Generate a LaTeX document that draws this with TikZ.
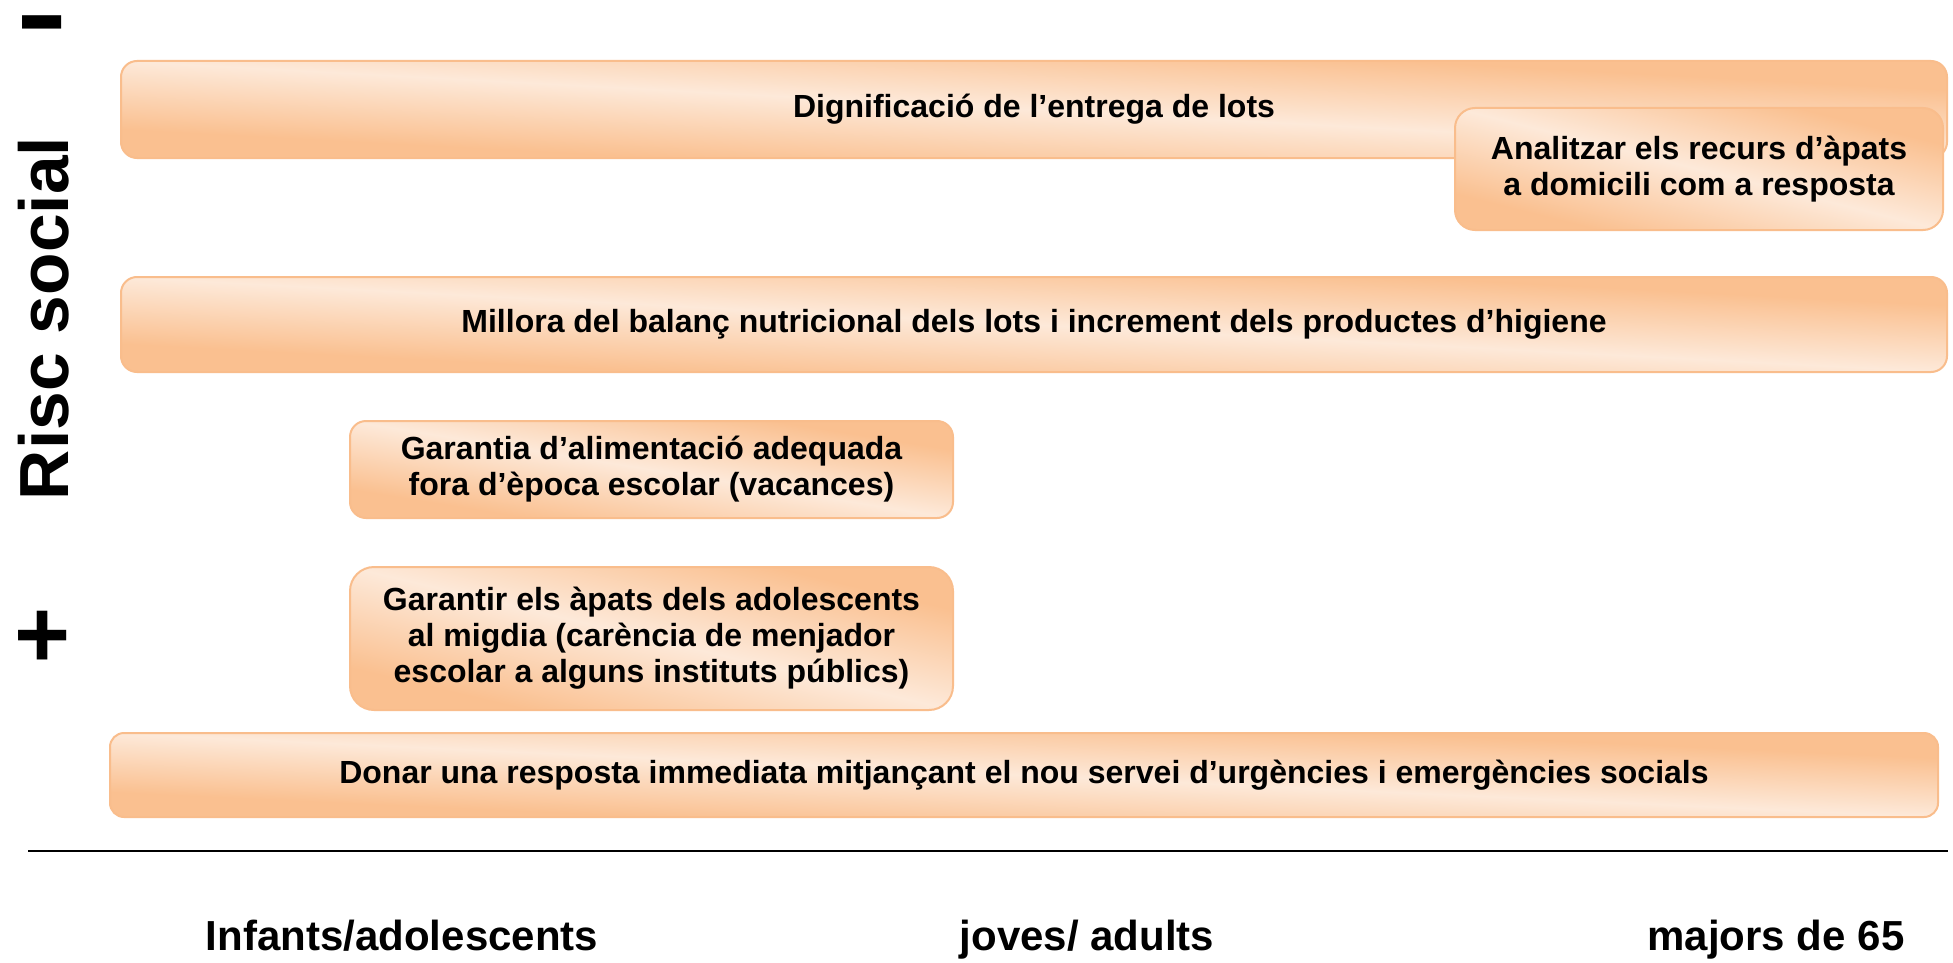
\documentclass[tikz,border=0pt]{standalone}
\usepackage{fontspec}
\setmainfont{Liberation Sans}
\definecolor{lt}{HTML}{FDE9D9}
\definecolor{dk}{HTML}{FAC090}
\definecolor{bord}{HTML}{F9BD8C}
\pgfdeclareverticalshading{orangediag}{100bp}{color(0bp)=(dk); color(25bp)=(dk); color(50bp)=(lt); color(75bp)=(dk); color(100bp)=(dk)}
% #1 name, #2 cx, #3 cy, #4 width, #5 height, #6 corner radius, #7 text
\newcommand\orangecard[7]{%
  \begin{scope}
    \clip[rounded corners=#6pt] ({#2-#4/2},{#3-#5/2}) rectangle ({#2+#4/2},{#3+#5/2});
    \begin{scope}[transform canvas={shift={(#2,#3)}, xscale=#4/#5}]
      \shade[shading=orangediag, shading angle=-45] ({-#5/2},{-#5/2}) rectangle ({#5/2},{#5/2});
    \end{scope}
  \end{scope}
  \node[cardframe, rounded corners=#6pt, minimum width=#4pt, minimum height=#5pt] (#1) at (#2,#3) {#7};
}
\begin{document}
\begin{tikzpicture}[x=1pt,y=-1pt,
  cardframe/.style={draw=bord, line width=2pt, align=center, inner sep=0pt, text=black,
    font=\fontsize{32}{36}\selectfont\bfseries},
  axislabel/.style={font=\fontsize{42}{48}\selectfont\bfseries, anchor=base, inner sep=0pt}]
\useasboundingbox[fill=white] (0,0) rectangle (1953,963);

\orangecard{dig}{1034}{109.5}{1826}{97}{16}{Dignificació de l’entrega de lots}
\orangecard{ana}{1699}{169}{488}{122}{20}{Analitzar els recurs d’àpats\\a domicili com a resposta}
\orangecard{mil}{1034}{324.5}{1826}{95}{16}{Millora del balanç nutricional dels lots i increment dels productes d’higiene}
\orangecard{gar}{651.5}{469.5}{603}{97}{16}{Garantia d’alimentació adequada\\fora d’època escolar (vacances)}
\orangecard{gtr}{651.5}{638.5}{603}{143}{24}{Garantir els àpats dels adolescents\\al migdia (carència de menjador\\escolar a alguns instituts públics)}
\orangecard{don}{1024}{775}{1828}{84}{14}{Donar una resposta immediata mitjançant el nou servei d’urgències i emergències socials}

\coordinate (lineL) at (28,851);
\coordinate (lineR) at (1948,851);
\draw[line width=2.5pt, black] (lineL) -- (lineR);

\node[axislabel] (infants) at (402,950) {Infants/adolescents};
\node[axislabel] (joves) at (1087,950) {joves/ adults};
\node[axislabel] (majors) at (1776,950) {majors de 65};

\node[rotate=90, anchor=base, inner sep=0pt, font=\fontsize{69.5}{80}\selectfont\bfseries] (risc) at (68,318.5) {Risc social};
\node[anchor=base, inner sep=0pt, font=\fontsize{96}{110}\selectfont\bfseries] (plus) at (42.5,667) {+};
\node[anchor=base, inner sep=0pt, xscale=1.4, yscale=1.02, font=\fontsize{110}{120}\selectfont\bfseries] (minus) at (42.5,51.5) {-};
\end{tikzpicture}
\end{document}
